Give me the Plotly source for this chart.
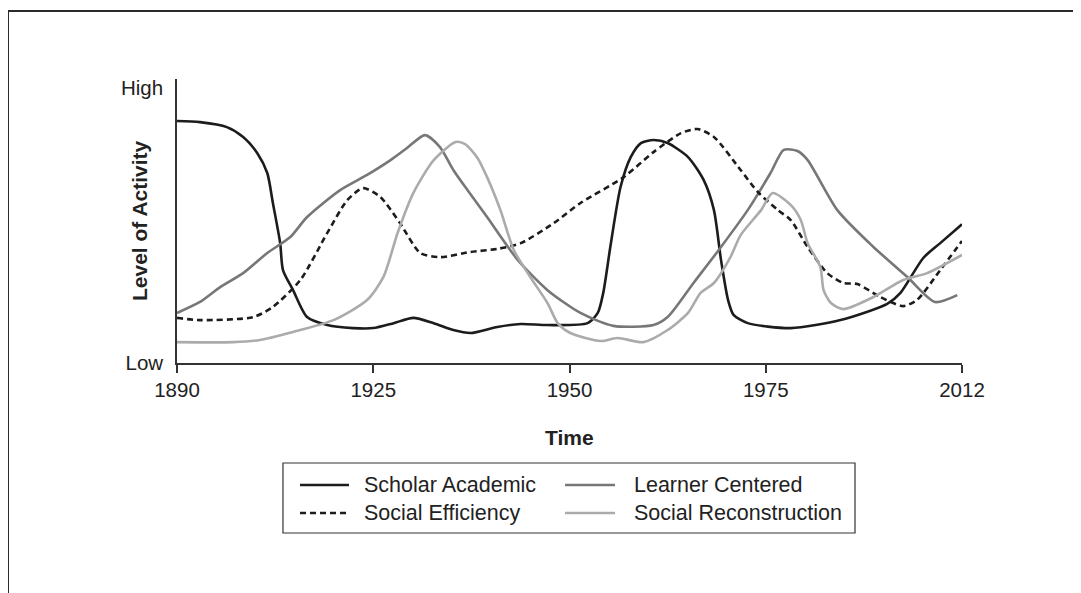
import numpy as np
import plotly.graph_objects as go

# Tick years (equally spaced on the chart's time axis)
tick_years = [1890, 1925, 1950, 1975, 2012]
y_tick_labels = ["Low", "High"]

# Scholar Academic
sa_years = [1890.0, 1894.1, 1898.9, 1901.8, 1904.3, 1906.1, 1907.1, 1908.4, 1908.9, 1910.7,
            1913.2, 1916.8, 1921.4, 1925.0, 1927.6, 1930.1, 1932.7, 1935.2, 1937.4, 1940.8,
            1943.8, 1947.2, 1952.3, 1953.6, 1954.3, 1955.2, 1956.5, 1957.8, 1959.1, 1960.7,
            1962.5, 1965.1, 1967.1, 1968.4, 1969.3, 1970.2, 1970.9, 1972.7, 1979.7, 1989.1,
            1997.9, 2000.4, 2004.7, 2007.9, 2012.0]
sa_vals = [0.880, 0.876, 0.858, 0.822, 0.764, 0.691, 0.582, 0.436, 0.338, 0.265,
           0.167, 0.138, 0.127, 0.127, 0.145, 0.164, 0.145, 0.120, 0.109, 0.131,
           0.142, 0.138, 0.145, 0.182, 0.255, 0.422, 0.640, 0.749, 0.800, 0.811,
           0.800, 0.749, 0.665, 0.556, 0.375, 0.229, 0.175, 0.145, 0.127, 0.156,
           0.215, 0.255, 0.382, 0.436, 0.505]

# Learner Centered
lc_years = [1890.0, 1894.1, 1897.7, 1901.8, 1906.1, 1910.2, 1913.2, 1919.1, 1923.9, 1927.2,
            1929.3, 1931.6, 1933.5, 1935.2, 1937.0, 1939.5, 1943.4, 1947.2, 1951.4, 1955.6,
            1960.7, 1962.5, 1965.8, 1969.3, 1972.7, 1975.9, 1978.4, 1981.0, 1982.9, 1988.5,
            1995.3, 2001.7, 2006.9, 2011.1]
lc_vals = [0.182, 0.222, 0.276, 0.327, 0.400, 0.458, 0.531, 0.629, 0.684, 0.738,
           0.782, 0.829, 0.785, 0.702, 0.629, 0.531, 0.375, 0.265, 0.182, 0.135,
           0.138, 0.167, 0.291, 0.422, 0.556, 0.691, 0.775, 0.771, 0.738, 0.556,
           0.422, 0.313, 0.222, 0.247]

# Social Efficiency
se_years = [1890.0, 1894.1, 1903.6, 1907.1, 1912.0, 1916.8, 1920.4, 1923.2, 1925.9, 1928.4,
            1931.0, 1933.5, 1937.4, 1940.8, 1943.8, 1948.0, 1951.4, 1956.9, 1960.7, 1964.2,
            1966.3, 1968.4, 1971.8, 1974.0, 1977.3, 1979.7, 1982.9, 1986.6, 1989.6, 1992.3,
            1996.6, 2000.9, 2003.5, 2007.9, 2012.0]
se_vals = [0.164, 0.156, 0.167, 0.204, 0.302, 0.473, 0.593, 0.636, 0.604, 0.509,
           0.400, 0.385, 0.404, 0.415, 0.436, 0.509, 0.582, 0.676, 0.767, 0.836,
           0.851, 0.822, 0.702, 0.622, 0.556, 0.520, 0.422, 0.327, 0.291, 0.287,
           0.240, 0.207, 0.229, 0.338, 0.444]

# Social Reconstruction
sr_years = [1890.0, 1900.0, 1904.8, 1910.7, 1917.9, 1923.9, 1926.3, 1928.1, 1930.1, 1932.7,
            1935.5, 1936.7, 1938.3, 1939.5, 1941.2, 1942.9, 1945.0, 1947.2, 1948.5, 1950.1,
            1954.0, 1956.1, 1959.4, 1962.5, 1965.1, 1966.7, 1968.4, 1970.5, 1971.8, 1974.4,
            1976.3, 1979.7, 1981.6, 1982.9, 1985.3, 1985.9, 1987.3, 1989.6, 1995.3, 2000.9,
            2005.4, 2012.0]
sr_vals = [0.076, 0.076, 0.084, 0.113, 0.156, 0.229, 0.313, 0.473, 0.618, 0.738,
           0.804, 0.796, 0.745, 0.676, 0.556, 0.411, 0.313, 0.218, 0.145, 0.109,
           0.080, 0.091, 0.076, 0.120, 0.182, 0.255, 0.291, 0.385, 0.465, 0.556,
           0.618, 0.575, 0.520, 0.436, 0.349, 0.265, 0.218, 0.196, 0.240, 0.302,
           0.327, 0.393]

tick_pos = list(range(len(tick_years)))


def to_axis(years):
    return np.interp(years, tick_years, tick_pos)


FONT = "Liberation Sans, Arial, Helvetica, sans-serif"
TXT = "#222222"

series = [
    ("Scholar Academic", sa_years, sa_vals, "#1c1c1c", "solid"),
    ("Learner Centered", lc_years, lc_vals, "#777777", "solid"),
    ("Social Efficiency", se_years, se_vals, "#1c1c1c", "6px,4px"),
    ("Social Reconstruction", sr_years, sr_vals, "#ababab", "solid"),
]

fig = go.Figure()
for name, yrs, vals, color, dash in series:
    fig.add_trace(go.Scatter(
        x=to_axis(yrs), y=vals, mode="lines", name=name, showlegend=False,
        line=dict(color=color, width=2.6, dash=dash, shape="spline", smoothing=0.7),
    ))

shapes = [
    # outer frame (top and left edges)
    dict(type="line", xref="paper", yref="paper", x0=-0.2153, x1=1.2,
         y0=1.2394, y1=1.2394, line=dict(color="#2a2a2a", width=2)),
    dict(type="line", xref="paper", yref="paper", x0=-0.2153, x1=-0.2153,
         y0=1.2394, y1=-0.9, line=dict(color="#2a2a2a", width=2)),
    # legend box
    dict(type="rect", xref="paper", yref="paper", x0=0.1350, x1=0.8637,
         y0=-0.5986, y1=-0.3521, line=dict(color="#333333", width=1.2),
         fillcolor="rgba(0,0,0,0)"),
]
annotations = [
    dict(text="<b>Level of Activity</b>", xref="paper", yref="paper",
         x=-0.0484, y=0.5, textangle=-90, showarrow=False,
         xanchor="center", yanchor="middle", font=dict(size=21, color=TXT)),
    dict(text="<b>Time</b>", xref="paper", yref="paper",
         x=0.5, y=-0.2606, showarrow=False,
         xanchor="center", yanchor="middle", font=dict(size=21, color=TXT)),
]

# manual legend: 2 columns x 2 rows, row-wise order
leg_cols = [(0.1567, 0.2191, 0.2357), (0.4943, 0.5580, 0.5796)]
leg_rows = [-0.4296, -0.5282]
for i, (name, _, _, color, dash) in enumerate(series):
    lx0, lx1, tx = leg_cols[i % 2]
    ly = leg_rows[i // 2]
    shapes.append(dict(type="line", xref="paper", yref="paper", x0=lx0, x1=lx1,
                       y0=ly, y1=ly, line=dict(color=color, width=2.6, dash=dash)))
    annotations.append(dict(text=name, xref="paper", yref="paper", x=tx, y=ly,
                            showarrow=False, xanchor="left", yanchor="middle",
                            font=dict(size=21.5, color=TXT)))

fig.update_layout(
    width=1081, height=593,
    margin=dict(l=169, r=127, t=71, b=238, autoexpand=False),
    paper_bgcolor="white", plot_bgcolor="white",
    font=dict(family=FONT, size=20.5, color=TXT),
    showlegend=False,
    xaxis=dict(
        range=[0, 4], tickvals=tick_pos, ticktext=[str(t) for t in tick_years],
        showline=True, linecolor="#333333", linewidth=1.5,
        ticks="outside", ticklen=8, tickwidth=1.5, tickcolor="#333333",
        showgrid=False, zeroline=False, automargin=False, fixedrange=True,
    ),
    yaxis=dict(
        range=[0, 1.033], tickvals=[0, 1], ticktext=y_tick_labels,
        showline=True, linecolor="#333333", linewidth=1.5,
        ticks="", ticklabelstandoff=8,
        showgrid=False, zeroline=False, automargin=False, fixedrange=True,
    ),
    annotations=annotations,
    shapes=shapes,
)

fig.write_html("out.html")
